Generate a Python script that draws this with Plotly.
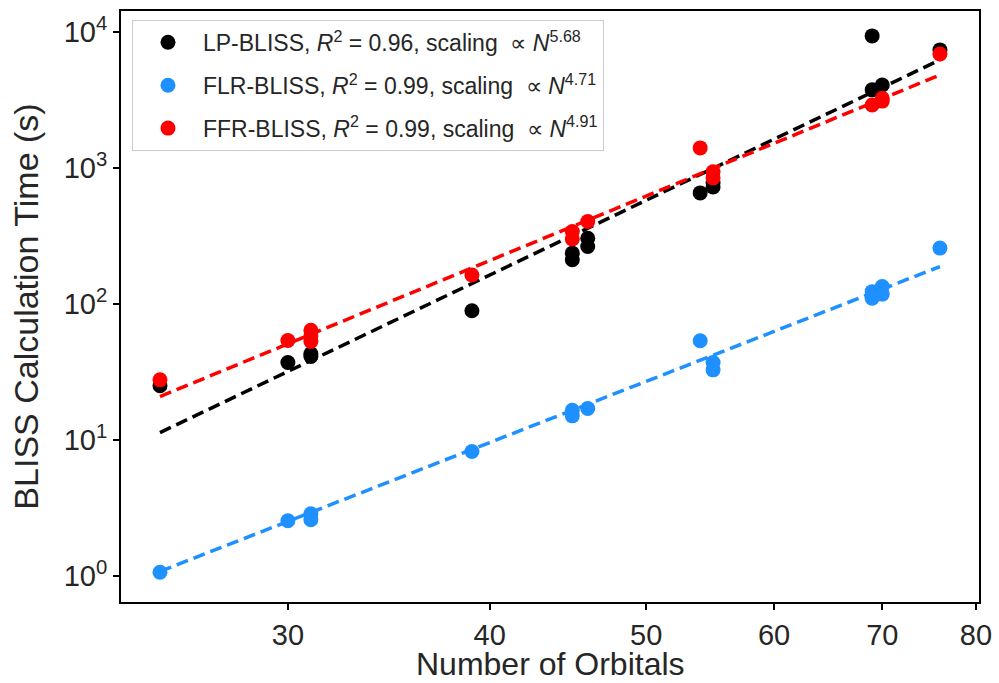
import plotly.graph_objects as go

# number of orbitals / time (s)
n_lp = [25, 30, 31, 31, 39, 45, 45, 46, 46, 54, 55, 55, 69, 69, 70, 76]
t_lp = [25, 37, 43, 41, 89, 236, 211, 304, 264, 655, 776, 724, 9350, 3750, 4075, 7380]

n_flr = [25, 30, 31, 31, 39, 45, 45, 46, 54, 55, 55, 69, 69, 70, 70, 76]
t_flr = [1.06, 2.54, 2.86, 2.58, 8.2, 16.5, 15, 17, 53.5, 37, 32.7, 123, 110, 134, 118, 257]

n_ffr = [25, 30, 31, 31, 31, 39, 45, 45, 46, 54, 55, 55, 69, 70, 70, 76]
t_ffr = [27.6, 53.7, 64, 58, 52.8, 163, 340, 300, 403, 1403, 935, 844, 2900, 3250, 3100, 6890]

# fitted power-law lines (end points)
fit_n = [25, 76]
fit_lp = [11.3, 6225]
fit_flr = [1.077, 188]
fit_ffr = [20.8, 4830]

labels = [
    "LP-BLISS, <i>R</i><sup>2</sup> = 0.96, scaling  \u221d <i>N</i><sup>5.68</sup>",
    "FLR-BLISS, <i>R</i><sup>2</sup> = 0.99, scaling  \u221d <i>N</i><sup>4.71</sup>",
    "FFR-BLISS, <i>R</i><sup>2</sup> = 0.99, scaling  \u221d <i>N</i><sup>4.91</sup>",
]
colors = ["black", "#1E90FF", "red"]

x_ticks = [30, 40, 50, 60, 70, 80]
y_ticks = [1, 10, 100, 1000, 10000]
y_text = ["10<sup>0</sup>", "10<sup>1</sup>", "10<sup>2</sup>", "10<sup>3</sup>", "10<sup>4</sup>"]

fig = go.Figure()
series = [(n_lp, t_lp, fit_lp), (n_flr, t_flr, fit_flr), (n_ffr, t_ffr, fit_ffr)]
for i, (n, t, fit) in enumerate(series):
    fig.add_trace(go.Scatter(x=n, y=t, mode="markers", name=labels[i],
                             legendgroup=f"g{i}",
                             marker=dict(color=colors[i], size=15)))
    fig.add_trace(go.Scatter(x=fit_n, y=fit, mode="lines", showlegend=False,
                             legendgroup=f"g{i}",
                             line=dict(color=colors[i], width=3.5, dash="12px,6px")))

axis_common = dict(type="log", showgrid=False, zeroline=False, showline=True,
                   linecolor="black", linewidth=2, mirror=True, automargin=False,
                   ticks="outside", ticklen=6, tickwidth=2, tickcolor="black",
                   tickfont=dict(size=29, color="#262626"))

fig.update_xaxes(**axis_common, range=[1.3738, 1.9050], tickvals=x_ticks,
                 ticktext=[str(v) for v in x_ticks])
fig.update_yaxes(**axis_common, range=[-0.193, 4.154], tickvals=y_ticks, ticktext=y_text,
                 title=dict(text="BLISS Calculation Time (s)",
                            font=dict(size=34, color="#262626")))

# x axis title placed just under the tick labels
fig.add_annotation(text="Number of Orbitals", xref="paper", yref="paper",
                   x=0.5, y=-0.105, xanchor="center", yanchor="middle",
                   showarrow=False, font=dict(size=32, color="#262626"))

fig.update_layout(
    width=999, height=683,
    margin=dict(l=121, r=20, t=11, b=81),
    paper_bgcolor="white", plot_bgcolor="white",
    font=dict(family="Liberation Sans, Arial, sans-serif", color="#262626"),
    legend=dict(x=0.0128, y=0.985, xanchor="left", yanchor="top",
                bgcolor="rgba(255,255,255,0.8)", bordercolor="#cccccc", borderwidth=1,
                font=dict(size=23, color="#262626"), traceorder="grouped",
                tracegroupgap=10, itemwidth=60),
)

fig.write_html("out.html", config={"displayModeBar": False},
               post_script="document.body.style.margin='0';")
